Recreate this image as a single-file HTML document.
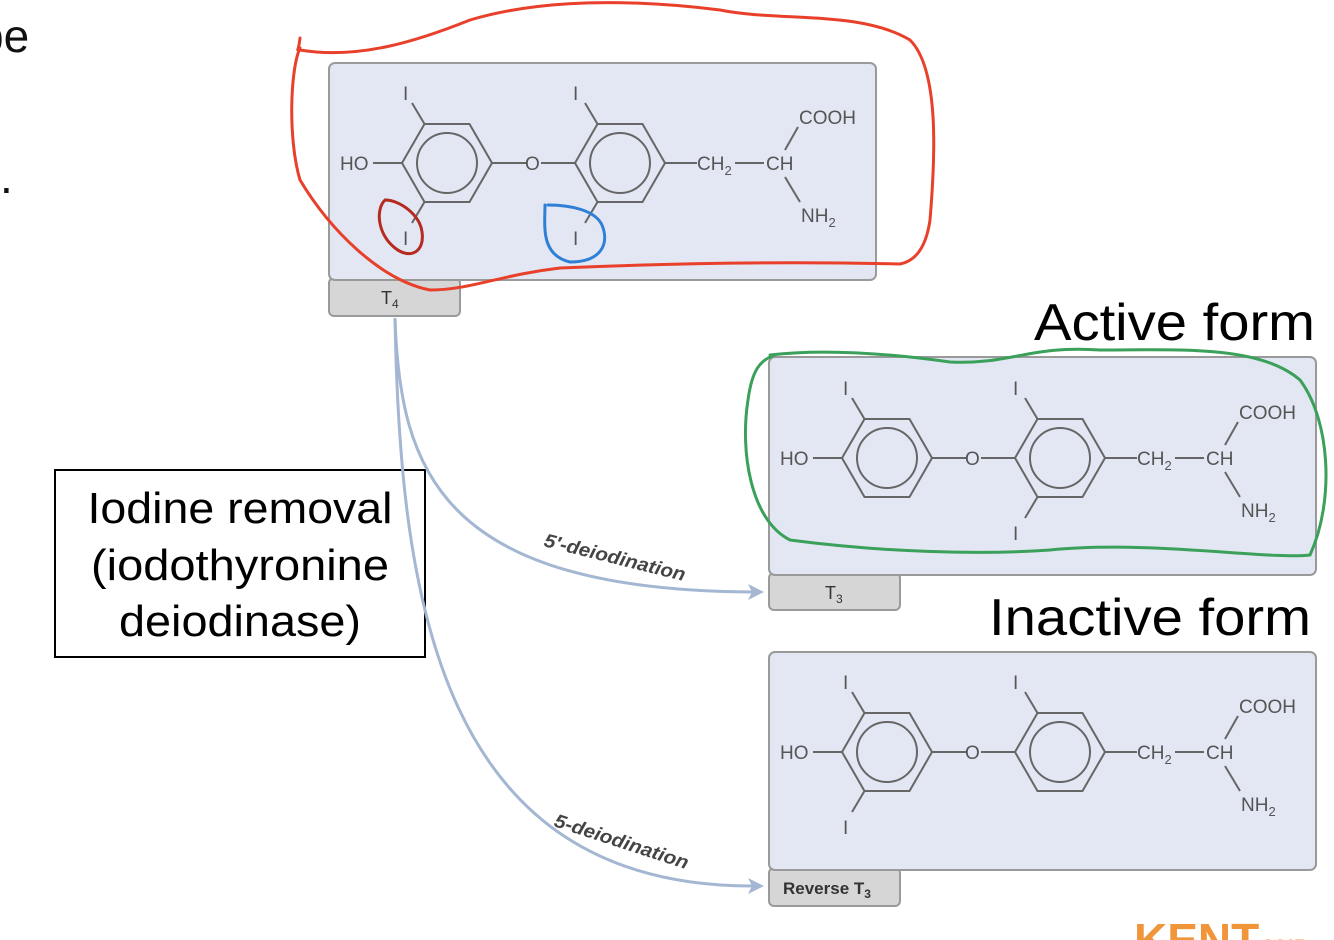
<!DOCTYPE html>
<html><head><meta charset="utf-8"><style>
html,body{margin:0;padding:0;background:#fff;width:1334px;height:940px;overflow:hidden}
svg{display:block}
.m{font-family:"Liberation Sans",sans-serif;font-size:19px;fill:#555}
.s{font-size:13px}
</style></head><body>
<svg width="1334" height="940" viewBox="0 0 1334 940" xmlns="http://www.w3.org/2000/svg">
<text x="-22" y="52" font-family="Liberation Sans,sans-serif" font-size="46" fill="#111">be</text>
<text x="0" y="193" font-family="Liberation Sans,sans-serif" font-size="46" fill="#111">.</text>

<!-- boxes -->
<g stroke="#9a9a9a" stroke-width="2">
<rect x="329" y="278" width="131" height="38" rx="5" fill="#d6d6d6"/>
<rect x="329" y="63" width="547" height="217" rx="6" fill="#e3e7f3"/>
<rect x="769" y="573" width="131" height="37" rx="5" fill="#d6d6d6"/>
<rect x="769" y="357" width="547" height="218" rx="6" fill="#e3e7f3"/>
<rect x="769" y="868" width="131" height="38" rx="5" fill="#d6d6d6"/>
<rect x="769" y="652" width="547" height="218" rx="6" fill="#e3e7f3"/>
</g>
<text x="381" y="304" font-family="Liberation Sans,sans-serif" font-size="18" fill="#333">T<tspan font-size="12" dy="4">4</tspan></text>
<text x="825" y="599" font-family="Liberation Sans,sans-serif" font-size="18" fill="#333">T<tspan font-size="12" dy="4">3</tspan></text>
<text x="783" y="894" font-family="Liberation Sans,sans-serif" font-size="17" font-weight="bold" fill="#333">Reverse T<tspan font-size="12" dy="4">3</tspan></text>

<!-- Iodine box -->
<rect x="55" y="470" width="370" height="187" fill="#fff" stroke="#000" stroke-width="2"/>
<g font-family="Liberation Sans,sans-serif" font-size="44" fill="#000" text-anchor="middle">
<text x="240" y="523" textLength="305" lengthAdjust="spacingAndGlyphs">Iodine removal</text>
<text x="240" y="580" textLength="298" lengthAdjust="spacingAndGlyphs">(iodothyronine</text>
<text x="240" y="636" textLength="242" lengthAdjust="spacingAndGlyphs">deiodinase)</text>
</g>

<!-- connectors -->
<g fill="none" stroke="#a4b7d2" stroke-width="3">
<path d="M395 318 C 400 470, 440 590, 752 592"/>
<path d="M395 318 C 400 600, 440 886, 752 886"/>
</g>
<path d="M764 592 L748 584 L752 592 L748 600 Z" fill="#a4b7d2"/>
<path d="M764 886 L748 878 L752 886 L748 894 Z" fill="#a4b7d2"/>
<text transform="translate(543,546) rotate(14)" font-family="Liberation Sans,sans-serif" font-size="19" font-style="italic" font-weight="bold" fill="#444" textLength="145" lengthAdjust="spacingAndGlyphs">5′-deiodination</text>
<text transform="translate(553,826) rotate(18)" font-family="Liberation Sans,sans-serif" font-size="19" font-style="italic" font-weight="bold" fill="#444" textLength="140" lengthAdjust="spacingAndGlyphs">5-deiodination</text>

<!-- molecule T4 -->
<g>
<g fill="none" stroke="#666" stroke-width="2">
<polygon points="402,163 424.5,124 469.5,124 492,163 469.5,202 424.5,202"/>
<polygon points="575,163 597.5,124 642.5,124 665,163 642.5,202 597.5,202"/>
<circle cx="447" cy="163" r="30"/><circle cx="620" cy="163" r="30"/>
<path d="M373 163H402M492 163H526M541 163H575M665 163H697M735 163H764M785 150L798 127M785 177L800 202"/>
<path d="M424.5 124L412 103M597.5 124L585 103M424.5 202L412 223M597.5 202L585 223"/>
</g>
<g class="m"><text x="340" y="170">HO</text><text x="525" y="170">O</text>
<text x="697" y="170">CH<tspan class="s" dy="5">2</tspan></text><text x="766" y="170">CH</text>
<text x="799" y="124">COOH</text><text x="801" y="222">NH<tspan class="s" dy="5">2</tspan></text>
<text x="403" y="100">I</text><text x="573" y="100">I</text><text x="403" y="245">I</text><text x="573" y="245">I</text></g>
</g>

<!-- T3 -->
<g transform="translate(440,295)">
<g fill="none" stroke="#666" stroke-width="2">
<polygon points="402,163 424.5,124 469.5,124 492,163 469.5,202 424.5,202"/>
<polygon points="575,163 597.5,124 642.5,124 665,163 642.5,202 597.5,202"/>
<circle cx="447" cy="163" r="30"/><circle cx="620" cy="163" r="30"/>
<path d="M373 163H402M492 163H526M541 163H575M665 163H697M735 163H764M785 150L798 127M785 177L800 202"/>
<path d="M424.5 124L412 103M597.5 124L585 103M597.5 202L585 223"/>
</g>
<g class="m"><text x="340" y="170">HO</text><text x="525" y="170">O</text>
<text x="697" y="170">CH<tspan class="s" dy="5">2</tspan></text><text x="766" y="170">CH</text>
<text x="799" y="124">COOH</text><text x="801" y="222">NH<tspan class="s" dy="5">2</tspan></text>
<text x="403" y="100">I</text><text x="573" y="100">I</text><text x="573" y="245">I</text></g>
</g>

<!-- reverse T3 -->
<g transform="translate(440,589)">
<g fill="none" stroke="#666" stroke-width="2">
<polygon points="402,163 424.5,124 469.5,124 492,163 469.5,202 424.5,202"/>
<polygon points="575,163 597.5,124 642.5,124 665,163 642.5,202 597.5,202"/>
<circle cx="447" cy="163" r="30"/><circle cx="620" cy="163" r="30"/>
<path d="M373 163H402M492 163H526M541 163H575M665 163H697M735 163H764M785 150L798 127M785 177L800 202"/>
<path d="M424.5 124L412 103M597.5 124L585 103M424.5 202L412 223"/>
</g>
<g class="m"><text x="340" y="170">HO</text><text x="525" y="170">O</text>
<text x="697" y="170">CH<tspan class="s" dy="5">2</tspan></text><text x="766" y="170">CH</text>
<text x="799" y="124">COOH</text><text x="801" y="222">NH<tspan class="s" dy="5">2</tspan></text>
<text x="403" y="100">I</text><text x="573" y="100">I</text><text x="403" y="245">I</text></g>
</g>

<!-- labels -->
<text x="1034" y="340" font-family="Liberation Sans,sans-serif" font-size="52" fill="#000" textLength="281" lengthAdjust="spacingAndGlyphs">Active form</text>
<text x="989" y="635" font-family="Liberation Sans,sans-serif" font-size="52" fill="#000" textLength="322" lengthAdjust="spacingAndGlyphs">Inactive form</text>
<text x="1134" y="956" font-family="Liberation Sans,sans-serif" font-size="46" font-weight="bold" fill="#f0953a">KENT<tspan font-size="24">AND</tspan></text>

<!-- freehand annotations -->
<g fill="none" stroke-width="3" stroke-linecap="round">
<path stroke="#e8402b" d="M300 38 C 298 55, 296 48, 300 50 C 360 60, 420 40, 470 20 C 520 5, 600 -5, 720 10 C 780 22, 860 10, 910 40 C 940 70, 935 160, 930 220 C 925 255, 910 262, 900 264 C 820 262, 700 262, 560 268 C 500 275, 470 290, 430 290 C 380 280, 330 230, 300 180 C 288 140, 290 70, 300 48"/>
<path stroke="#b52b20" d="M385 200 C 375 210, 378 235, 395 248 C 410 260, 425 252, 422 232 C 420 215, 400 200, 385 200 Z"/>
<path stroke="#2f7fd6" d="M545 205 C 545 225, 540 255, 570 262 C 600 262, 610 245, 602 225 C 595 210, 570 205, 548 205"/>
<path stroke="#3aa05a" d="M770 355 C 830 348, 900 355, 950 362 C 1010 365, 1030 345, 1100 350 C 1180 350, 1260 345, 1300 380 C 1330 420, 1335 500, 1310 555 C 1270 560, 1150 540, 1050 550 C 980 555, 880 552, 790 540 C 750 520, 740 450, 748 400 C 752 370, 760 360, 775 355"/>
</g>
</svg>
</body></html>
